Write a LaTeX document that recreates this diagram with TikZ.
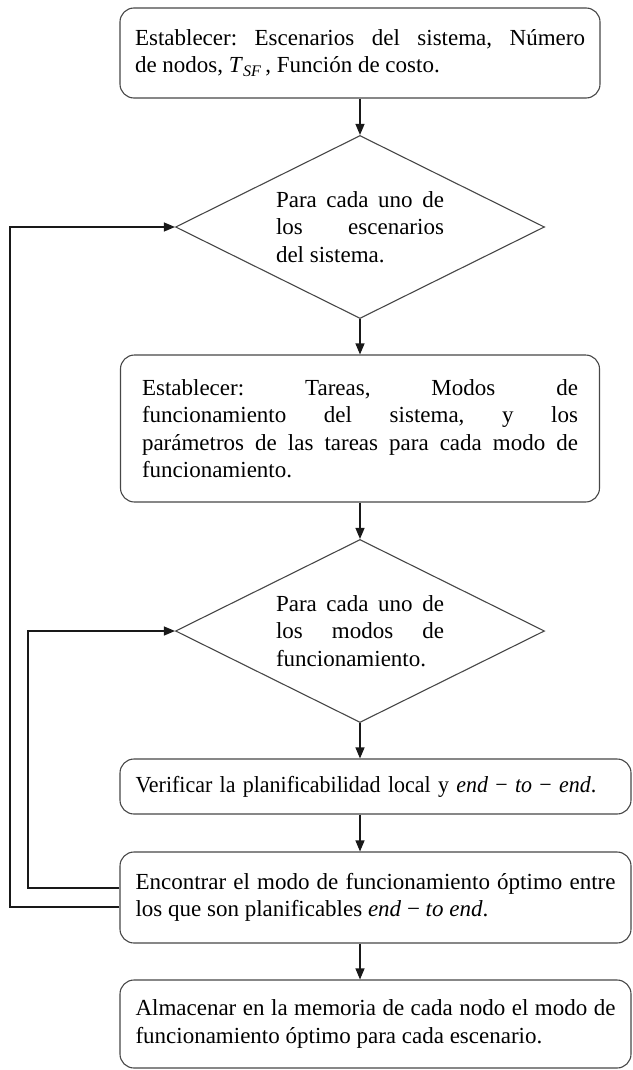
\documentclass[tikz,border=0pt]{standalone}
\usepackage{fontspec}
\setmainfont{Liberation Serif}
\usetikzlibrary{shapes.geometric,arrows.meta,calc}
\newcommand\fsz{\fontsize{23}{27.5}\selectfont\frenchspacing\hyphenpenalty=10000\tolerance=10000\hbadness=10000}
\begin{document}
\begin{tikzpicture}[x=1pt,y=-1pt,
 box/.style={draw=black!72, line width=1.1pt, rounded corners=14pt, inner sep=0pt, align=justify, font=\fsz},
 dia/.style={draw=black!72, line width=1.1pt, shape=diamond, aspect=2, inner sep=0pt, minimum width=369pt, minimum height=183pt, text width=168pt, align=justify, font=\fsz},
 arr/.style={draw=black!90, line width=1.1pt, -{Triangle[length=11pt,width=9pt]}}]
\useasboundingbox (0,0) rectangle (632,1070);

\node[box, minimum width=480pt, minimum height=90pt, text width=450pt] (b1) at (360,53)
 {Establecer: Escenarios del sistema, Número\linebreak de nodos, \textit{T}\textsubscript{\textit{SF}}\,, Función de costo.};
\node[dia] (d1) at (360,227) {Para cada uno de\linebreak los escenarios\linebreak del sistema.};
\node[box, minimum width=479pt, minimum height=147pt, text width=436pt] (b2) at (360,428.5)
 {Establecer: Tareas, Modos de\linebreak funcionamiento del sistema, y los\linebreak parámetros de las tareas para cada modo de\linebreak funcionamiento.};
\node[dia] (d2) at (360,631) {Para cada uno de\linebreak los modos de\linebreak funcionamiento.};
\node[box, minimum width=511pt, minimum height=55pt, text width=480pt, align=left] (b3) at (375.5,786.5)
 {\scalebox{0.955}[1]{Verificar la planificabilidad local y \textit{end} − \textit{to} − \textit{end}.}};
\node[box, minimum width=511pt, minimum height=91pt, text width=480pt] (b4) at (375.5,897.5)
 {Encontrar el modo de funcionamiento óptimo entre\linebreak los que son planificables \textit{end} − \textit{to end}.};
\node[box, minimum width=511pt, minimum height=88pt, text width=480pt] (b5) at (375.5,1024)
 {Almacenar en la memoria de cada nodo el modo de\linebreak funcionamiento óptimo para cada escenario.};

\coordinate (outer) at (10,0);
\coordinate (inner) at (28,0);

\draw[arr] (b1.south) -- (d1.north);
\draw[arr] (d1.south) -- (b2.north);
\draw[arr] (b2.south) -- (d2.north);
\draw[arr] (d2.south) -- (d2.south |- b3.north);
\draw[arr] (d2.south |- b3.south) -- (d2.south |- b4.north);
\draw[arr] (d2.south |- b4.south) -- (d2.south |- b5.north);
\draw[arr] ([yshift=-9.5pt]b4.west) -| (outer |- d1.west) -- (d1.west);
\draw[arr] ([yshift=9.5pt]b4.west) -| (inner |- d2.west) -- (d2.west);
\end{tikzpicture}
\end{document}
